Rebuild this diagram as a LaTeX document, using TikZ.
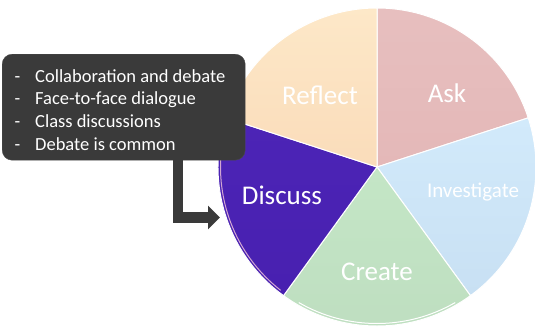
\documentclass[tikz,border=0pt]{standalone}
\usepackage{fontspec}
\setmainfont{Carlito}
\usetikzlibrary{arrows.meta}
\usetikzlibrary{calc}
\definecolor{askred}{RGB}{231,191,191}
\definecolor{askredd}{RGB}{228,184,184}
\definecolor{reflectpeach}{RGB}{253,232,200}
\definecolor{reflectpeachd}{RGB}{250,220,186}
\definecolor{investblue}{RGB}{210,234,251}
\definecolor{investblued}{RGB}{200,224,243}
\definecolor{creategreen}{RGB}{196,230,198}
\definecolor{creategreend}{RGB}{190,222,192}
\definecolor{discusspurple}{RGB}{76,36,182}
\definecolor{discusspurpled}{RGB}{72,32,176}
\definecolor{notegray}{RGB}{58,58,58}
\tikzset{
  segment/.style={draw=white, line width=1pt},
  seglabel/.style={text=white, font=\fontsize{27}{30}\selectfont},
  notebox/.style={fill=notegray, draw=gray!60!black, rounded corners=10pt,
    minimum width=243pt, minimum height=106pt, inner sep=0pt},
  bentarrow/.style={draw=notegray, line width=10.5pt,
    -{Triangle[width=23pt,length=12pt]}}
}

\begin{document}
\begin{tikzpicture}[x=1pt, y=1pt]
  \useasboundingbox (0,0) rectangle (535,333);
  % draw the wheel
  \coordinate (c) at (377,166);
  \shade[segment, top color=askred, bottom color=askredd]
        (c) -- ++(18:159) arc[start angle=18, end angle=90, radius=159] -- cycle;
  \shade[segment, top color=investblue, bottom color=investblued]
        (c) -- ++(-54:159) arc[start angle=-54, end angle=18, radius=159] -- cycle;
  \shade[segment, top color=creategreen, bottom color=creategreend]
        (c) -- ++(-126:159) arc[start angle=-126, end angle=-54, radius=159] -- cycle;
  \shade[segment, top color=discusspurple, bottom color=discusspurpled]
        (c) -- ++(162:159) arc[start angle=162, end angle=234, radius=159] -- cycle;
  \shade[segment, top color=reflectpeach, bottom color=reflectpeachd]
        (c) -- ++(90:159) arc[start angle=90, end angle=162, radius=159] -- cycle;
  % draw rim highlights
  \draw[violet!35!white, line width=1pt]
        ($(c)+(170:156.5)$) arc[start angle=170, end angle=232, radius=156.5];
  \draw[white, line width=1pt]
        ($(c)+(-120:156.5)$) arc[start angle=-120, end angle=-60, radius=156.5];
  % draw labels
  \node[seglabel] (ask)      at (447,240) {Ask};
  \node[seglabel, font=\fontsize{21}{24}\selectfont] (investigate) at (473,141) {Investigate};
  \node[seglabel] (create)   at (377,61)  {Create};
  \node[seglabel] (discuss)  at (282,138) {Discuss};
  \node[seglabel] (reflect)  at (320,238) {Reflect};
  % draw note box
  \node[notebox, anchor=north west] (notes) at (2,279) {};
  \node[text=white, anchor=base west, inner sep=0pt,
        font=\fontsize{18.5}{22.7}\selectfont] (notetext) at (14.5,251)
        {\begin{tabular}[t]{@{}l@{\hspace{14.8pt}}l@{}}
          - & Collaboration and debate\\
          - & Face-to-face dialogue\\
          - & Class discussions\\
          - & Debate is common
        \end{tabular}};
  % draw arrow
  \coordinate (bend) at (178,115.5);
  \coordinate (discussin) at (220,115.5);
  \draw[bentarrow] (notes.south -| bend) -- (bend) -- (discussin);
\end{tikzpicture}
\end{document}
